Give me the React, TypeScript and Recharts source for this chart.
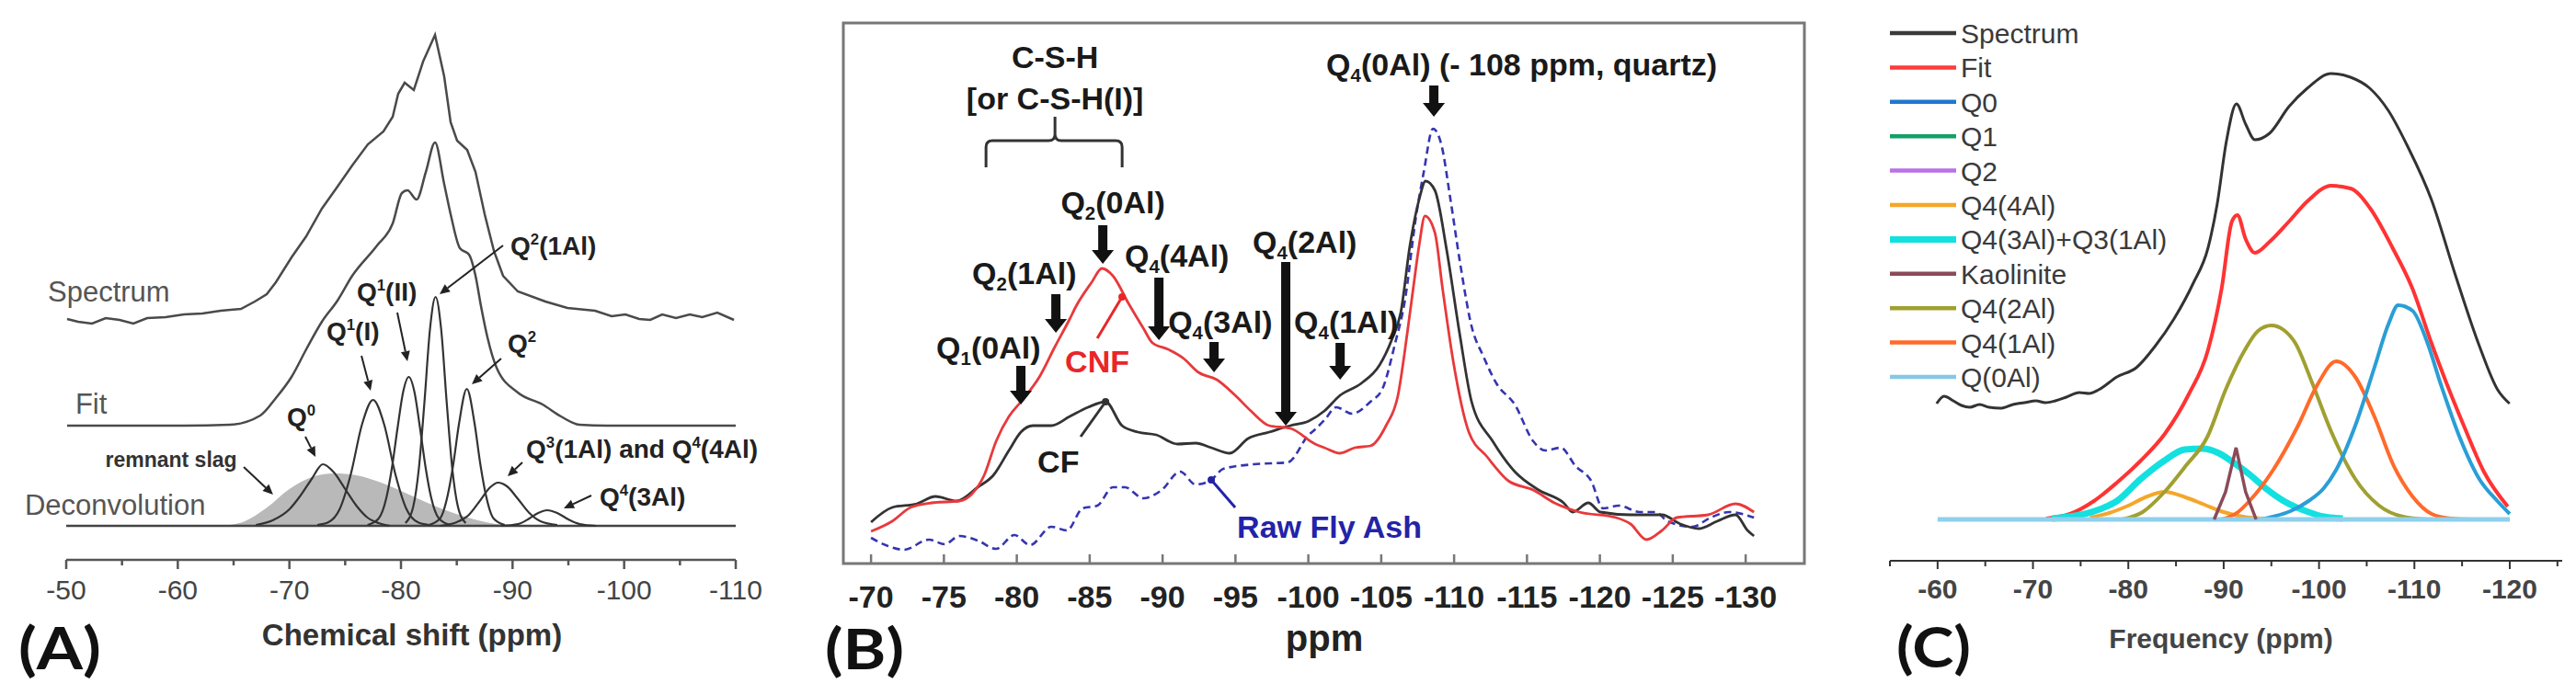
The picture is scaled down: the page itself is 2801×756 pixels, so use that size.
import React from 'react';
import { ComposedChart, Line, Area, XAxis, YAxis, ReferenceDot, ReferenceLine, ReferenceArea } from 'recharts';

const FONT = '"Liberation Sans", Arial, Helvetica, sans-serif';

// ---------- (A) slag binder: spectrum, fit, deconvolution ----------
const aTicks = [-50, -55, -60, -65, -70, -75, -80, -85, -90, -95, -100, -105, -110];
const aSpectrum = [[-50.08,225],[-51.07,222],[-52.31,220],[-53.54,226],[-54.78,224],[-56.02,220],[-57.25,226],[-58.9,227],[-60.55,230],[-62.2,231],[-63.85,234],[-65.66,236],[-66.9,244],[-67.97,252],[-68.79,265],[-70.19,292],[-71.51,315],[-72.91,345],[-74.31,369],[-75.63,392],[-77.03,415],[-78.43,429],[-79.26,445],[-79.75,470],[-80.33,482],[-81.15,474],[-81.98,505],[-83.05,534],[-83.87,489],[-84.45,439],[-85.03,419],[-85.93,409],[-86.68,385],[-87.5,339],[-88.33,299],[-89.15,272],[-90.47,255],[-92.94,244],[-94.92,237],[-97.39,234],[-98.88,228],[-100.11,230],[-101.35,225],[-102.34,224],[-103.41,230],[-104.65,226],[-105.88,230],[-107.0,227],[-108.35,232],[-109.84,224]];
const aFit = [[-50.08,109],[-60.55,109],[-64.67,110],[-67.39,120],[-68.79,139],[-70.19,162],[-71.51,192],[-72.91,222],[-74.31,245],[-75.63,272],[-77.86,305],[-79.26,329],[-80.08,362],[-80.58,365],[-81.4,355],[-82.23,385],[-83.05,417],[-83.87,372],[-84.45,339],[-85.28,302],[-86.1,295],[-86.68,272],[-87.17,239],[-87.75,205],[-88.57,172],[-90.47,145],[-92.69,132],[-94.34,119],[-95.99,110],[-98.46,109],[-110,109]];
const aSlag = [[-64,0],[-66,5],[-68,20],[-70,40],[-72,53],[-74,57],[-76,55],[-78,48],[-80,38],[-82,27],[-84,17],[-86,9],[-88,3],[-90,0]];
const aQ0 = [[-67,1],[-68.5,6],[-70,18],[-71,33],[-72,51],[-73,67],[-74,58],[-75,40],[-76,22],[-77,9],[-78,3],[-79,0]];
const aQ1I = [[-72.5,1],[-73.5,4],[-74.5,18],[-75.5,56],[-76.5,110],[-77.5,137],[-78.5,110],[-79.5,56],[-80.5,18],[-81.5,4],[-82.5,1]];
const aQ1II = [[-77,1],[-78,8],[-78.7,31],[-79.2,64],[-79.7,107],[-80.2,146],[-80.7,162],[-81.2,146],[-81.7,107],[-82.2,64],[-82.7,31],[-83.4,8],[-84.4,1]];
const aQ2Al = [[-80.4,3],[-81.1,21],[-81.6,62],[-82.1,134],[-82.6,214],[-83.1,249],[-83.6,214],[-84.1,134],[-84.6,62],[-85.1,21],[-85.8,3]];
const aQ2 = [[-82.5,1],[-83.5,8],[-84.2,34],[-84.7,68],[-85.2,111],[-85.9,149],[-86.6,111],[-87.1,68],[-87.6,34],[-88.3,8],[-89.3,1]];
const aQ3 = [[-83.5,0],[-85,4],[-86,11],[-87,26],[-88,42],[-88.7,47],[-89.5,43],[-90.5,29],[-91.5,14],[-92.5,5],[-94,1]];
const aQ43 = [[-89,0],[-90.5,2],[-91.5,8],[-92.3,14],[-93.1,17],[-94,14],[-95,7],[-96,2],[-97.5,0]];
const aBase = [[-50,0],[-110,0]];
const aPeaks = [aQ0, aQ1I, aQ1II, aQ2Al, aQ2, aQ3, aQ43];

const aLabels = [
  { x: -48.35, y: 244, text: 'Spectrum', kind: 'trace' },
  { x: -50.82, y: 122, text: 'Fit', kind: 'trace' },
  { x: -46.29, y: 12, text: 'Deconvolution', kind: 'trace' },
  { x: -53.5, y: 64, text: 'remnant slag', kind: 'small' },
  { x: -69.78, y: 109, text: 'Q^0', kind: 'peak' },
  { x: -73.32, y: 202, text: 'Q^1(I)', kind: 'peak' },
  { x: -76.04, y: 245, text: 'Q^1(II)', kind: 'peak' },
  { x: -89.81, y: 295, text: 'Q^2(1Al)', kind: 'peak' },
  { x: -89.56, y: 189, text: 'Q^2', kind: 'peak' },
  { x: -91.21, y: 74, text: 'Q^3(1Al) and Q^4(4Al)', kind: 'peak' },
  { x: -97.8, y: 22, text: 'Q^4(3Al)', kind: 'peak' },
];
const aArrows = [[-65.91,64,-68.54,34],[-71.43,97,-72.34,75],[-76.46,185,-77.28,147],[-79.67,232,-80.58,179],[-89.15,305,-83.46,252],[-88.98,182,-86.35,154],[-90.88,69,-89.56,54],[-97.06,33,-94.59,19]];

// ---------- (B) CF / CNF / raw fly ash ----------
const bTicks = [-70, -75, -80, -85, -90, -95, -100, -105, -110, -115, -120, -125, -130];
const bCNF = [[-70,35],[-71.45,46],[-72.71,61],[-74.16,66],[-76.06,68],[-76.94,76],[-77.76,96],[-78.58,133],[-79.46,160],[-80.28,176],[-81.55,203],[-82.62,236],[-83.63,266],[-84.07,280],[-85.14,306],[-85.84,321],[-86.59,313],[-87.66,283],[-88.68,256],[-89.31,240],[-90.38,233],[-91.45,223],[-92.46,208],[-93.72,200],[-94.98,183],[-96.06,166],[-97.32,150],[-98.77,147],[-100.47,130],[-101.1,126],[-102.18,120],[-103.19,126],[-104.26,128],[-105.33,150],[-106.15,183],[-106.78,250],[-107.2,300],[-107.6,346],[-108.0,378],[-108.68,360],[-109.2,300],[-109.94,220],[-111.01,143],[-112.27,116],[-113.72,90],[-115.43,80],[-116.88,66],[-118.58,56],[-121.1,50],[-122.11,43],[-123.19,26],[-124.26,36],[-125.27,50],[-127.41,53],[-129.31,65],[-130.57,56]];
const bCF = [[-70,45],[-71.45,61],[-73.15,65],[-74.42,73],[-75.87,68],[-77.32,83],[-78.39,96],[-79.46,123],[-80.28,143],[-81.1,150],[-82.37,150],[-83.63,160],[-84.89,170],[-86.09,176],[-87.22,150],[-88.3,143],[-89.56,140],[-91.01,130],[-92.27,131],[-93.34,126],[-94.61,120],[-95.87,136],[-97.32,143],[-98.77,150],[-100.03,155],[-101.1,166],[-102.18,183],[-103.63,196],[-104.89,216],[-105.71,243],[-106.34,273],[-106.97,346],[-107.6,396],[-108.04,416],[-108.68,406],[-109.5,340],[-110.38,250],[-111.2,176],[-112.65,133],[-114.16,100],[-115.8,80],[-117.51,66],[-118.14,56],[-119.21,66],[-120.03,56],[-122.11,53],[-124.26,53],[-125.52,43],[-126.78,38],[-128.04,46],[-129.31,53],[-130.13,36],[-130.57,30]];
const bRawAsh = [[-70,28],[-71.01,20],[-72.27,15],[-73.97,26],[-75.05,21],[-76.06,30],[-77.32,25],[-78.58,16],[-79.84,31],[-80.91,20],[-82.37,40],[-83.44,36],[-84.51,60],[-85.52,63],[-86.59,83],[-87.41,83],[-88.68,71],[-89.94,80],[-91.2,100],[-92.27,86],[-93.34,91],[-94.16,103],[-96.25,108],[-98.58,110],[-100.03,140],[-100.47,146],[-101.1,156],[-101.92,170],[-102.99,163],[-104.26,176],[-105.08,190],[-105.96,240],[-106.59,283],[-107.41,380],[-107.92,426],[-108.55,473],[-109.12,456],[-109.75,396],[-110.38,330],[-111.2,258],[-112.02,225],[-112.9,196],[-114.16,173],[-115.43,133],[-116.25,123],[-117.32,126],[-118.33,106],[-119.4,90],[-120.22,60],[-121.29,63],[-122.74,56],[-123.82,56],[-124.64,46],[-126.34,40],[-127.6,50],[-128.86,56],[-130.57,50]];

const bLabels = [
  { x: -82.62, y: 539, text: 'C-S-H', anchor: 'middle', color: '#1a1a1a' },
  { x: -82.62, y: 494, text: '[or C-S-H(I)]', anchor: 'middle', color: '#1a1a1a' },
  { x: -101.23, y: 531, text: 'Q_4(0Al) (- 108 ppm, quartz)', anchor: 'start', color: '#1a1a1a' },
  { x: -86.59, y: 381, text: 'Q_2(0Al)', anchor: 'middle', color: '#1a1a1a' },
  { x: -76.94, y: 304, text: 'Q_2(1Al)', anchor: 'start', color: '#1a1a1a' },
  { x: -74.48, y: 223, text: 'Q_1(0Al)', anchor: 'start', color: '#1a1a1a' },
  { x: -87.41, y: 323, text: 'Q_4(4Al)', anchor: 'start', color: '#1a1a1a' },
  { x: -96.18, y: 338, text: 'Q_4(2Al)', anchor: 'start', color: '#1a1a1a' },
  { x: -90.38, y: 251, text: 'Q_4(3Al)', anchor: 'start', color: '#1a1a1a' },
  { x: -99.02, y: 251, text: 'Q_4(1Al)', anchor: 'start', color: '#1a1a1a' },
  { x: -83.31, y: 208, text: 'CNF', anchor: 'start', color: '#e8262a' },
  { x: -81.42, y: 99, text: 'CF', anchor: 'start', color: '#1a1a1a' },
  { x: -95.11, y: 28, text: 'Raw Fly Ash', anchor: 'start', color: '#2323a8' },
];
const bArrows = [[-108.61,520,-108.61,486],[-85.9,368,-85.9,326],[-82.68,293,-82.68,251],[-80.28,215,-80.28,173],[-89.75,311,-89.75,243],[-98.45,328,-98.45,150],[-93.53,241,-93.53,208],[-102.18,240,-102.18,200]];
const bLeaders = [
  { seg: [-85.52,245,-87.22,290], color: '#e8262a' },
  { seg: [-84.38,138,-86.09,176], color: '#333333' },
  { seg: [-94.98,61,-93.34,91], color: '#2323a8' },
];
const bBrace = { x: -82.62, y: 460 };

// ---------- (C) kaolin based binder ----------
const cTicks = [-55, -60, -65, -70, -75, -80, -85, -90, -95, -100, -105, -110, -115, -120, -125];
const cSpectrum = [[-59.9,126],[-60.68,134],[-61.64,129],[-62.5,124],[-63.38,122],[-64.4,125],[-65.4,122],[-66.6,121],[-67.91,125],[-69.1,127],[-70.32,129],[-71.3,127],[-72.34,129],[-73.5,133],[-74.85,138],[-75.9,137],[-76.88,141],[-78.8,155],[-80.83,165],[-82.85,189],[-84.78,218],[-86.81,257],[-88.35,295],[-89.32,343],[-90.28,411],[-91.34,452],[-92.3,430],[-93.27,413],[-94.81,420],[-96.84,449],[-98.77,469],[-101.27,485],[-103.3,481],[-105.32,469],[-107.25,445],[-109.28,406],[-111.78,348],[-114.29,266],[-116.8,189],[-118.73,141],[-119.98,126]];
const cFit = [[-71.38,1],[-73.89,6],[-76.39,20],[-78.8,40],[-81.31,64],[-83.82,93],[-86.33,136],[-88.35,184],[-89.8,252],[-90.86,324],[-91.44,331],[-92.3,305],[-93.27,290],[-94.81,302],[-96.84,324],[-98.77,346],[-101.27,363],[-103.3,360],[-105.32,339],[-107.73,295],[-109.76,252],[-111.78,192],[-113.3,150],[-115.26,100],[-117.28,52],[-119.79,14]];
const cQ44Al = [[-76,2],[-78,7],[-80,15],[-82,25],[-83.8,30],[-86,24],[-88,16],[-90,8],[-92,3],[-94,1],[-96,0]];
const cQ43Al = [[-72,1],[-75,5],[-77,11],[-78.8,20],[-81.3,44],[-83.8,64],[-85.9,76],[-87.8,77],[-89.5,72],[-91,62],[-92.7,49],[-94.5,33],[-96.3,20],[-98.9,8],[-100.5,3],[-102.5,1]];
const cKaolinite = [[-89,0],[-90.2,30],[-91.3,78],[-92.3,30],[-93.4,0]];
const cQ42Al = [[-79.4,0],[-81.5,8],[-83.8,30],[-86,58],[-88.3,90],[-90.2,141],[-92.2,184],[-93.6,205],[-95,211],[-96.3,206],[-97.5,192],[-99.3,148],[-101.3,95],[-103.8,44],[-106.3,15],[-108.8,3],[-111.3,0]];
const cQ41Al = [[-89.8,0],[-91.5,8],[-92.7,20],[-95.2,54],[-97.8,102],[-99.8,146],[-101.8,172],[-103.8,155],[-105.8,112],[-107.8,59],[-109.8,25],[-111.8,6],[-113.8,1],[-116,0],[-120,0]];
const cQ0Al = [[-94,0],[-95.2,3],[-97,9],[-98.9,20],[-100.5,34],[-101.8,54],[-103.8,102],[-105.8,165],[-107.3,213],[-108.3,233],[-109.8,227],[-111.3,194],[-112.8,146],[-114.8,88],[-116.8,44],[-118.7,20],[-120,6]];
const cBase = [[-60,0],[-120,0]];
const cLegendNames = ['Spectrum', 'Fit', 'Q0', 'Q1', 'Q2', 'Q4(4Al)', 'Q4(3Al)+Q3(1Al)', 'Kaolinite', 'Q4(2Al)', 'Q4(1Al)', 'Q(0Al)'];
const cLegendColors = ['#3a3a3a', '#ff3b3b', '#1f78d0', '#14a064', '#b872e6', '#f5a62a', '#14e0e0', '#8a4b5a', '#a0a032', '#ff6a2a', '#86c8e6'];

const xy = (a: number[][]) => a.map(([x, y]) => ({ x, y }));

// text with ^x superscripts and _x subscripts
function RichText({ x, y, text, size, weight, fill, anchor, family }: any) {
  const parts: { t: string; k: string }[] = [];
  let buf = '';
  for (let i = 0; i < text.length; i++) {
    const c = text[i];
    if ((c === '^' || c === '_') && i + 1 < text.length) {
      if (buf) parts.push({ t: buf, k: 'n' });
      buf = '';
      parts.push({ t: text[i + 1], k: c });
      i++;
    } else buf += c;
  }
  if (buf) parts.push({ t: buf, k: 'n' });
  let shift = 0;
  return (
    <text x={x} y={y} fontSize={size} fontWeight={weight} fill={fill} textAnchor={anchor || 'start'} fontFamily={family || FONT}>
      {parts.map((p, j) => {
        const target = p.k === '^' ? -size * 0.4 : p.k === '_' ? size * 0.22 : 0;
        const dy = target - shift;
        shift = target;
        return <tspan key={j} dy={dy} fontSize={p.k === 'n' ? size : size * 0.6}>{p.t}</tspan>;
      })}
    </text>
  );
}

const arrowShape = (w: number, hl: number, hw: number, color: string) => (p: any) => {
  const { x1, y1, x2, y2 } = p;
  const len = Math.hypot(x2 - x1, y2 - y1) || 1;
  const ux = (x2 - x1) / len, uy = (y2 - y1) / len;
  const bx = x2 - ux * hl, by = y2 - uy * hl;
  const px = -uy * hw / 2, py = ux * hw / 2;
  return (
    <g>
      <line x1={x1} y1={y1} x2={bx} y2={by} stroke={color} strokeWidth={w} />
      <polygon points={`${x2},${y2} ${bx + px},${by + py} ${bx - px},${by - py}`} fill={color} />
    </g>
  );
};

const leaderShape = (color: string) => (p: any) => (
  <g>
    <line x1={p.x1} y1={p.y1} x2={p.x2} y2={p.y2} stroke={color} strokeWidth={3} />
    <circle cx={p.x2} cy={p.y2} r={4} fill={color} />
  </g>
);

const braceShape = (p: any) => {
  const { cx, cy } = p;
  const d = `M${cx - 75},${cy + 29} L${cx - 75},${cy + 7} Q${cx - 75},${cy} ${cx - 68},${cy} L${cx - 7},${cy} Q${cx},${cy} ${cx},${cy - 7} L${cx},${cy - 26} M${cx},${cy - 7} Q${cx},${cy} ${cx + 7},${cy} L${cx + 66},${cy} Q${cx + 73},${cy} ${cx + 73},${cy + 7} L${cx + 73},${cy + 29}`;
  return <path d={d} fill="none" stroke="#333" strokeWidth={3} />;
};

const aTick = (p: any) => {
  const v = p.payload.value;
  const major = v % 10 === 0;
  return (
    <g>
      <line x1={p.x} x2={p.x} y1={p.y} y2={p.y + (major ? 10 : 6)} stroke="#555" strokeWidth={2.5} />
      {major && <text x={p.x} y={p.y + 43} textAnchor="middle" fontSize={30} fill="#444" fontFamily={FONT}>{v}</text>}
    </g>
  );
};

const bTick = (p: any) => (
  <g>
    <line x1={p.x} x2={p.x} y1={p.y} y2={p.y - 10} stroke="#777" strokeWidth={2.5} />
    <text x={p.x} y={p.y + 48} textAnchor="middle" fontSize={34} fontWeight={700} fill="#222" fontFamily={FONT}>{p.payload.value}</text>
  </g>
);

const cTick = (p: any) => {
  const v = p.payload.value;
  const major = v % 10 === 0;
  const labelled = major && v <= -60 && v >= -120;
  return (
    <g>
      <line x1={p.x} x2={p.x} y1={p.y} y2={p.y + (major ? 9 : 6)} stroke="#333" strokeWidth={2} />
      {labelled && <text x={p.x} y={p.y + 41} textAnchor="middle" fontSize={30} fontWeight={700} fill="#444" fontFamily={FONT}>{v}</text>}
    </g>
  );
};

const aStyle: Record<string, any> = {
  trace: { size: 31, weight: 400, fill: '#555' },
  small: { size: 23, weight: 700, fill: '#333' },
  peak: { size: 28, weight: 700, fill: '#222' },
};

function PanelA() {
  return (
    <ComposedChart width={930} height={756} margin={{ top: 20, right: 130, bottom: 0, left: 72 }}>
      <XAxis type="number" dataKey="x" domain={[-110, -50]} reversed allowDataOverflow ticks={aTicks} interval={0}
        tickLine={false} tickSize={0} tickMargin={0} height={147} axisLine={{ stroke: '#555', strokeWidth: 2.5 }} tick={aTick} />
      <YAxis type="number" hide domain={[-37, 552]} allowDataOverflow />
      <Area data={xy(aSlag)} dataKey="y" type="monotone" fill="#b9b9b9" fillOpacity={1} stroke="none" baseValue={0} isAnimationActive={false} />
      <Line data={xy(aBase)} dataKey="y" type="linear" stroke="#444" strokeWidth={2.5} dot={false} activeDot={false} isAnimationActive={false} />
      {aPeaks.map((s, i) => (
        <Line key={i} data={xy(s)} dataKey="y" type="monotone" stroke="#333" strokeWidth={2.2} dot={false} activeDot={false} isAnimationActive={false} />
      ))}
      <Line data={xy(aFit)} dataKey="y" type="monotone" stroke="#4a4a4a" strokeWidth={2.5} dot={false} activeDot={false} isAnimationActive={false} />
      <Line data={xy(aSpectrum)} dataKey="y" type="linear" stroke="#4a4a4a" strokeWidth={2.5} dot={false} activeDot={false} isAnimationActive={false} />
      {aArrows.map((s, i) => (
        <ReferenceLine key={'ar' + i} segment={[{ x: s[0], y: s[1] }, { x: s[2], y: s[3] }]} ifOverflow="visible" shape={arrowShape(2, 11, 10, '#222')} />
      ))}
      {aLabels.map((l, i) => (
        <ReferenceDot key={'lb' + i} x={l.x} y={l.y} r={0} ifOverflow="visible"
          shape={(p: any) => <RichText x={p.cx} y={p.cy} text={l.text} {...aStyle[l.kind]} />} />
      ))}
    </ComposedChart>
  );
}

function PanelB() {
  return (
    <ComposedChart width={1100} height={756} margin={{ top: 25, right: 18, bottom: 0, left: 37 }}>
      <XAxis type="number" dataKey="x" domain={[-134.03, -68.1]} reversed allowDataOverflow ticks={bTicks} interval={0}
        tickLine={false} tickSize={0} tickMargin={0} height={143} axisLine={false} tick={bTick} />
      <YAxis type="number" hide domain={[0, 588]} allowDataOverflow />
      <ReferenceArea x1={-134.03} x2={-68.1} y1={0} y2={588} fill="none" stroke="#777" strokeWidth={3} ifOverflow="visible" />
      <Line data={xy(bRawAsh)} dataKey="y" type="monotone" stroke="#3535b0" strokeWidth={2.6} strokeDasharray="8 5" dot={false} activeDot={false} isAnimationActive={false} />
      <Line data={xy(bCF)} dataKey="y" type="monotone" stroke="#333333" strokeWidth={2.8} dot={false} activeDot={false} isAnimationActive={false} />
      <Line data={xy(bCNF)} dataKey="y" type="monotone" stroke="#e8393b" strokeWidth={2.8} dot={false} activeDot={false} isAnimationActive={false} />
      {bArrows.map((s, i) => (
        <ReferenceLine key={'ar' + i} segment={[{ x: s[0], y: s[1] }, { x: s[2], y: s[3] }]} ifOverflow="visible" shape={arrowShape(10, 15, 24, '#111')} />
      ))}
      {bLeaders.map((l, i) => (
        <ReferenceLine key={'ld' + i} segment={[{ x: l.seg[0], y: l.seg[1] }, { x: l.seg[2], y: l.seg[3] }]} ifOverflow="visible" shape={leaderShape(l.color)} />
      ))}
      <ReferenceDot x={bBrace.x} y={bBrace.y} r={0} ifOverflow="visible" shape={braceShape} />
      {bLabels.map((l, i) => (
        <ReferenceDot key={'lb' + i} x={l.x} y={l.y} r={0} ifOverflow="visible"
          shape={(p: any) => <RichText x={p.cx} y={p.cy} text={l.text} size={34} weight={700} fill={l.color} anchor={l.anchor} />} />
      ))}
    </ComposedChart>
  );
}

function PanelC() {
  const line = (d: number[][], color: string, w: number, type: any = 'monotone') => (
    <Line data={xy(d)} dataKey="y" type={type} stroke={color} strokeWidth={w} dot={false} activeDot={false} isAnimationActive={false} />
  );
  return (
    <ComposedChart width={811} height={756} margin={{ top: 20, right: 15, bottom: 0, left: 65 }}>
      <XAxis type="number" dataKey="x" domain={[-125.5, -55]} reversed allowDataOverflow ticks={cTicks} interval={0}
        tickLine={false} tickSize={0} tickMargin={0} height={146} axisLine={{ stroke: '#333', strokeWidth: 2 }} tick={cTick} />
      <YAxis type="number" hide domain={[-45, 545]} allowDataOverflow />
      {line(cSpectrum, '#333333', 3)}
      {line(cFit, '#ff3333', 4)}
      {line(cQ44Al, '#f5a62a', 4)}
      {line(cQ43Al, '#14e0e0', 7)}
      {line(cQ42Al, '#a0a032', 4)}
      {line(cQ41Al, '#ff6a2a', 4)}
      {line(cQ0Al, '#2a9ed6', 4)}
      {line(cBase, '#8fd0ec', 5, 'linear')}
      {line(cKaolinite, '#8a4b5a', 3.5, 'linear')}
    </ComposedChart>
  );
}

export default function App() {
  return (
    <div style={{ position: 'absolute', left: 0, top: 0, width: 2801, height: 756, background: '#fff', overflow: 'hidden' }}>
      <div style={{ position: 'absolute', left: 0, top: 0 }}><PanelA /></div>
      <div style={{ position: 'absolute', left: 880, top: 0 }}><PanelB /></div>
      <div style={{ position: 'absolute', left: 1990, top: 0 }}><PanelC /></div>
      <svg width={2801} height={756} style={{ position: 'absolute', left: 0, top: 0, pointerEvents: 'none' }}>
        <text x={448} y={702} textAnchor="middle" fontSize={33} fontWeight={700} fill="#333" fontFamily={FONT}>Chemical shift (ppm)</text>
        <text x={1440} y={708} textAnchor="middle" fontSize={40} fontWeight={700} fill="#222" fontFamily={FONT}>ppm</text>
        <text x={2415} y={705} textAnchor="middle" fontSize={30} fontWeight={700} fill="#444" fontFamily={FONT}>Frequency (ppm)</text>
        <text x={20} y={728} fontSize={64} fontWeight={700} fill="#111" fontFamily="Lato, sans-serif" textLength={90} lengthAdjust="spacingAndGlyphs">(A)</text>
        <text x={897} y={728} fontSize={62} fontWeight={700} fill="#111" fontFamily="Lato, sans-serif" textLength={86} lengthAdjust="spacingAndGlyphs">(B)</text>
        <text x={2062} y={726} fontSize={62} fontWeight={700} fill="#111" fontFamily="Lato, sans-serif" textLength={81} lengthAdjust="spacingAndGlyphs">(C)</text>
        {cLegendNames.map((n, i) => {
          const cy = 36 + i * 37.4;
          return (
            <g key={n}>
              <line x1={2055} x2={2127} y1={cy} y2={cy} stroke={cLegendColors[i]} strokeWidth={n === 'Q4(3Al)+Q3(1Al)' ? 7 : 4.5} />
              <text x={2132} y={cy + 11} fontSize={30} fill="#3a3a3a" fontFamily={FONT}>{n}</text>
            </g>
          );
        })}
      </svg>
    </div>
  );
}
